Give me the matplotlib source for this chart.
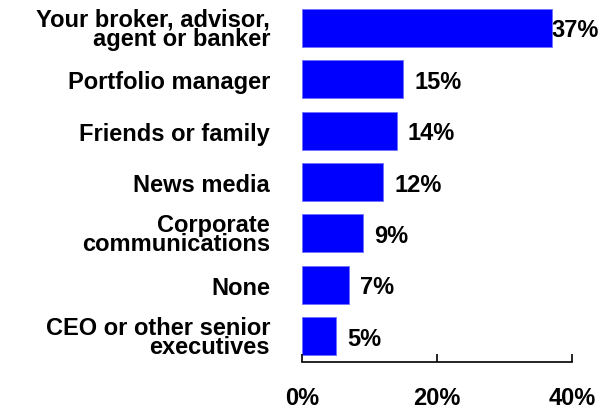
import matplotlib.pyplot as plt

categories = [
    'Your broker, advisor,\nagent or banker',
    'Portfolio manager',
    'Friends or family',
    'News media',
    'Corporate\ncommunications',
    'None',
    'CEO or other senior\nexecutives',
]
shares = [37, 15, 14, 12, 9, 7, 5]
ticks = [0, 20, 40]

plt.rcParams['font.family'] = ['Liberation Sans', 'DejaVu Sans']
plt.rcParams['font.weight'] = 'bold'
FS = 17

fig = plt.figure(figsize=(6.11, 4.10), dpi=100)
ax = fig.add_axes([302 / 611, 1 - 363 / 410, 270 / 611, 360 / 410])

pos = list(range(len(shares)))
ax.barh(pos, shares, height=0.74, color='#0000ff', edgecolor='#7070ff', linewidth=0.6)

ax.set_xlim(0, 40)
ax.set_ylim(len(shares) - 0.5, -0.5)

# value labels; the longest bar has no room, so it sits flush
for p, v in zip(pos, shares):
    pad = 0 if v == max(shares) else 8
    ax.annotate(f'{v}%', (v, p), xytext=(pad, -1.5), textcoords='offset points',
                ha='left', va='center', fontsize=FS, fontweight='bold')

ax.set_xticks(ticks)
ax.set_xticklabels([f'{t}%' for t in ticks], fontsize=FS, fontweight='bold')
ax.tick_params(axis='x', direction='in', length=6, width=1.2, pad=17)

ax.set_yticks(pos)
ax.set_yticklabels(categories, fontsize=FS, fontweight='bold',
                   linespacing=0.8, ha='right')
ax.tick_params(axis='y', length=0, pad=23)

for side in ('top', 'right', 'left'):
    ax.spines[side].set_visible(False)
ax.spines['bottom'].set_linewidth(1.2)

fig.savefig('out.png', dpi=100)
